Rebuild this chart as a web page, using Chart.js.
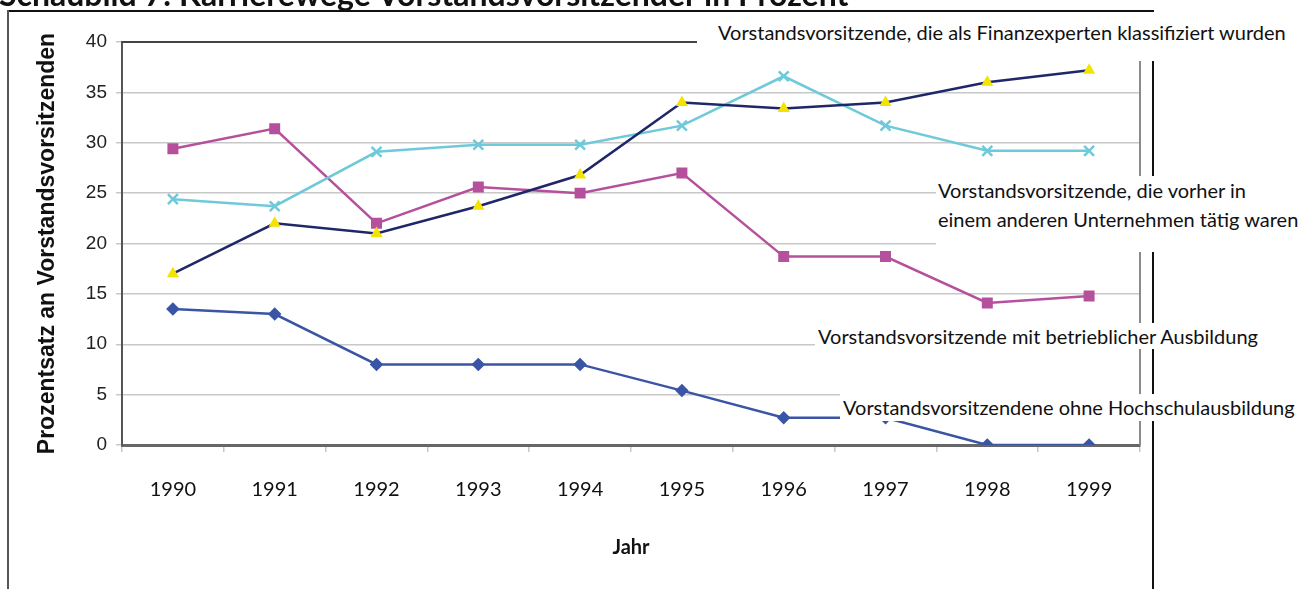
<!DOCTYPE html>
<html>
<head>
<meta charset="utf-8">
<title>Karrierewege Vorstandsvorsitzender</title>
<script src="https://cdn.jsdelivr.net/npm/chart.js@4"></script>
<style>
  html, body { margin: 0; padding: 0; background: #fff; overflow: hidden; }
  #wrap { position: relative; width: 1309px; height: 589px; }
  #c { position: absolute; left: 0; top: 0; }
  .title { position: absolute; left: -1px; top: -22px; font: bold 32px Lato, sans-serif; color: #111; white-space: nowrap; line-height: 32px; }
  .line { position: absolute; background: #111; }
  .lbl { position: absolute; background: #fff; font: 20px Lato, sans-serif; color: #111; white-space: nowrap; }
</style>
</head>
<body>
<div id="wrap">
  <canvas id="c" width="1309" height="589"></canvas>
  <div class="title">Schaubild 7: Karrierewege Vorstandsvorsitzender in Prozent</div>
  <div class="line" style="left:7px;top:10px;width:1147px;height:2px;"></div>
  <div class="line" style="left:7px;top:10px;width:2px;height:579px;background:#555;"></div>
  <div class="line" style="left:1152px;top:60px;width:2px;height:529px;"></div>
  <div class="lbl" style="left:697px;top:14px;width:612px;height:47px;line-height:36px;padding-left:21px;box-sizing:border-box;">Vorstandsvorsitzende, die als Finanzexperten klassifiziert wurden</div>
  <div class="lbl" style="left:936px;top:176px;width:373px;height:76px;line-height:29px;padding-left:2px;box-sizing:border-box;">Vorstandsvorsitzende, die vorher in<br>einem anderen Unternehmen tätig waren</div>
  <div class="lbl" style="left:815px;top:323px;width:494px;height:26px;line-height:26px;padding-left:3px;box-sizing:border-box;">Vorstandsvorsitzende mit betrieblicher Ausbildung</div>
  <div class="lbl" style="left:840px;top:394px;width:469px;height:27px;line-height:27px;padding-left:3px;box-sizing:border-box;">Vorstandsvorsitzendene ohne Hochschulausbildung</div>
</div>
<script>
const years = ['1990', '1991', '1992', '1993', '1994', '1995', '1996', '1997', '1998', '1999'];
const ohneHochschule = [13.5, 13.0, 8.0, 8.0, 8.0, 5.4, 2.7, 2.7, 0, 0];
const betrieblich = [29.4, 31.4, 22.0, 25.6, 25.0, 27.0, 18.7, 18.7, 14.1, 14.8];
const andererUnternehmen = [24.4, 23.7, 29.1, 29.8, 29.8, 31.7, 36.6, 31.7, 29.2, 29.2];
const finanzexperten = [17.0, 22.0, 21.0, 23.7, 26.8, 34.0, 33.4, 34.0, 36.0, 37.2];
const yMin = 0, yMax = 40, yStep = 5;

// top + right edge of the plot area (Excel style frame)
const plotFrame = {
  id: 'plotFrame',
  beforeDatasetsDraw(chart) {
    const { ctx, chartArea: a } = chart;
    ctx.save();
    ctx.lineWidth = 2;
    ctx.strokeStyle = '#444';
    ctx.beginPath();
    ctx.moveTo(a.left, a.top); ctx.lineTo(a.right, a.top);
    ctx.stroke();
    ctx.strokeStyle = '#8a8a8a';
    ctx.beginPath();
    ctx.moveTo(a.right, a.top); ctx.lineTo(a.right, a.bottom);
    ctx.stroke();
    ctx.restore();
  }
};

new Chart(document.getElementById('c'), {
  type: 'line',
  data: {
    labels: years,
    datasets: [
      { label: 'Vorstandsvorsitzende, die als Finanzexperten klassifiziert wurden', data: finanzexperten,
        borderColor: '#1f2769', borderWidth: 2.5, pointStyle: 'triangle', pointRadius: 7,
        pointBackgroundColor: '#f3e300', pointBorderColor: '#f3e300', pointBorderWidth: 0 },
      { label: 'Vorstandsvorsitzende, die vorher in einem anderen Unternehmen tätig waren', data: andererUnternehmen,
        borderColor: '#6ec9da', borderWidth: 2.5, pointStyle: 'crossRot', pointRadius: 7,
        pointBorderColor: '#6ec9da', pointBorderWidth: 2.5 },
      { label: 'Vorstandsvorsitzende mit betrieblicher Ausbildung', data: betrieblich,
        borderColor: '#b5519c', borderWidth: 2.5, pointStyle: 'rect', pointRadius: 6,
        pointBackgroundColor: '#b5519c', pointBorderColor: '#b5519c' },
      { label: 'Vorstandsvorsitzendene ohne Hochschulausbildung', data: ohneHochschule,
        borderColor: '#3b55a6', borderWidth: 2.5, pointStyle: 'rectRot', pointRadius: 5,
        pointBackgroundColor: '#3b55a6', pointBorderColor: '#3b55a6' }
    ]
  },
  options: {
    responsive: false,
    animation: false,
    devicePixelRatio: 1,
    layout: { padding: { left: 0, right: 169, top: 42, bottom: 0 } },
    plugins: { legend: { display: false }, tooltip: { enabled: false } },
    elements: { line: { tension: 0 } },
    scales: {
      x: {
        offset: true,
        afterFit(s) { s.height = 144; },
        grid: { offset: true, drawOnChartArea: false, tickLength: 7, color: '#c8c8c8', lineWidth: 1.5 },
        border: { color: '#666', width: 3 },
        ticks: { color: '#111', padding: 26, font: { family: 'Lato', size: 20 } },
        title: { display: true, text: 'Jahr', color: '#111', padding: { bottom: 29 },
                 font: { family: 'Lato', size: 20, weight: 'bold' } }
      },
      y: {
        min: yMin, max: yMax,
        afterFit(s) { s.width = 122; },
        grid: { color: '#c8c8c8', lineWidth: 1.5, tickLength: 6 },
        border: { color: '#555', width: 2 },
        ticks: { stepSize: yStep, color: '#222', padding: 9, font: { family: '"Liberation Sans", Arial', size: 19 } },
        title: { display: true, text: 'Prozentsatz an Vorstandsvorsitzenden', color: '#111', padding: { top: 34 },
                 font: { family: '"Liberation Sans", Arial', size: 23, weight: 'bold' } }
      }
    }
  },
  plugins: [plotFrame]
});
</script>
</body>
</html>
